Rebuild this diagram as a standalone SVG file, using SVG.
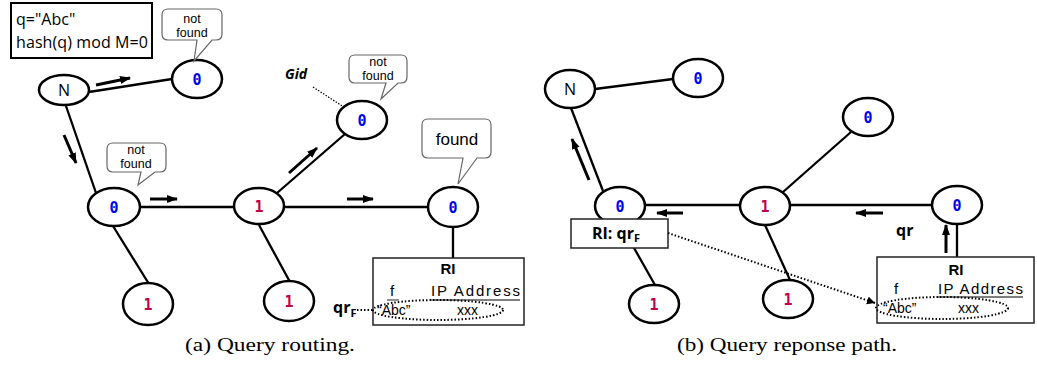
<svg xmlns="http://www.w3.org/2000/svg" width="1037" height="370" viewBox="0 0 1037 370">
<style>
.edge{stroke:#000;stroke-width:2.3;fill:none}
.arr{stroke:#000;stroke-width:3;fill:none;marker-end:url(#ah)}
.node{fill:#fff;stroke:#000;stroke-width:2.5}
.n0{font-family:"DejaVu Sans Mono",monospace;font-weight:bold;font-size:15px;fill:#0000ee;text-anchor:middle}
.n1{font-family:"DejaVu Sans Mono",monospace;font-weight:bold;font-size:15px;fill:#c0004e;text-anchor:middle}
.nN{font-family:"Open Sans",sans-serif;font-size:16px;fill:#000;text-anchor:middle}
.bub{fill:#fff;stroke:#666;stroke-width:1.2}
.bt{font-family:"Liberation Sans",Arial,sans-serif;font-size:12.5px;fill:#000;text-anchor:middle}
.t{font-family:"Open Sans",sans-serif;fill:#000}
.b{font-family:"Open Sans",sans-serif;font-weight:bold;fill:#000}
.ri{font-family:"Liberation Sans",Arial,sans-serif;font-weight:bold;font-size:15px;fill:#000;text-anchor:middle}
.rt{font-family:"Liberation Sans",Arial,sans-serif;font-size:15px;fill:#000}
.box{fill:#fff;stroke:#222;stroke-width:1.5}
.dot{fill:none;stroke:#000;stroke-width:2;stroke-dasharray:1.5 2}
.cap{font-family:"Liberation Serif",serif;font-size:18px;fill:#000}
</style>
<defs>
<marker id="ah" markerUnits="userSpaceOnUse" markerWidth="12" markerHeight="10" refX="10" refY="4" orient="auto"><path d="M0,0 L11,4 L0,8 z" fill="#000"/></marker>
<marker id="oh" markerUnits="userSpaceOnUse" markerWidth="10" markerHeight="10" refX="8" refY="4" orient="auto"><path d="M0,0 L8,4 L0,8" fill="none" stroke="#000" stroke-width="1"/></marker>
<marker id="sh" markerUnits="userSpaceOnUse" markerWidth="10" markerHeight="10" refX="8" refY="4" orient="auto"><path d="M0,0 L8,4 L0,8 z" fill="#000"/></marker>
</defs>

<g id="connectors">
<line class="edge" x1="89" y1="92" x2="172" y2="79"/>
<line class="edge" x1="66" y1="106" x2="96" y2="193"/>
<line class="edge" x1="140" y1="207" x2="234" y2="207"/>
<line class="edge" x1="113" y1="226" x2="149" y2="284"/>
<line class="edge" x1="259" y1="225" x2="290" y2="282"/>
<line class="edge" x1="277" y1="193" x2="345" y2="134"/>
<line class="edge" x1="284" y1="207" x2="428" y2="207"/>
<line class="edge" x1="453" y1="227" x2="453" y2="258"/>
<line class="arr" x1="96" y1="85" x2="130" y2="78"/>
<line class="arr" x1="64" y1="135" x2="76" y2="163"/>
<line class="arr" x1="150" y1="199" x2="177" y2="199"/>
<line class="arr" x1="289" y1="173" x2="317" y2="148"/>
<line class="arr" x1="347" y1="199" x2="373" y2="199"/>
<line x1="313" y1="87" x2="356" y2="115" stroke="#000" stroke-width="1.2" stroke-dasharray="1.5 1.5" marker-end="url(#oh)"/>
<line class="dot" x1="357" y1="310" x2="373" y2="310"/>

<line class="edge" x1="595" y1="89" x2="673" y2="79"/>
<line class="edge" x1="571" y1="108" x2="603" y2="191"/>
<line class="edge" x1="645" y1="205" x2="740" y2="205"/>
<line class="edge" x1="621" y1="225" x2="655" y2="285"/>
<line class="edge" x1="765" y1="225" x2="790" y2="280"/>
<line class="edge" x1="783" y1="192" x2="851" y2="132"/>
<line class="edge" x1="790" y1="205" x2="932" y2="205"/>
<line class="edge" x1="957" y1="224" x2="957" y2="257"/>
<line class="arr" x1="589" y1="180" x2="572" y2="139"/>
<line class="arr" x1="683" y1="213" x2="657" y2="213"/>
<line class="arr" x1="883" y1="213" x2="856" y2="213"/>
<line class="arr" x1="946" y1="253" x2="946" y2="225"/>
</g>

<g id="query-box">
<rect x="11" y="3" width="141" height="55" fill="#fff" stroke="#000" stroke-width="2"/>
<text class="t" x="16" y="25" font-size="16">q="Abc"</text>
<text class="t" x="16" y="48" font-size="16" textLength="132">hash(q) mod M=0</text>
</g>

<g id="a-N"><ellipse class="node" cx="64" cy="90" rx="25" ry="15"/><text class="nN" x="64" y="96">N</text></g>
<g id="a-top0"><ellipse class="node" cx="197" cy="79" rx="25" ry="19"/><text class="n0" x="197" y="85">0</text></g>
<g id="a-mid0"><ellipse class="node" cx="114" cy="207" rx="26" ry="19"/><text class="n0" x="114" y="213">0</text></g>
<g id="a-mid1"><ellipse class="node" cx="259" cy="206" rx="25" ry="18"/><text class="n1" x="259" y="212">1</text></g>
<g id="a-low1a"><ellipse class="node" cx="148" cy="304" rx="25" ry="21"/><text class="n1" x="148" y="310">1</text></g>
<g id="a-low1b"><ellipse class="node" cx="289" cy="301" rx="25" ry="20"/><text class="n1" x="289" y="307">1</text></g>
<g id="a-gid0"><ellipse class="node" cx="362" cy="120" rx="25" ry="19"/><text class="n0" x="362" y="126">0</text></g>
<g id="a-found0"><ellipse class="node" cx="453" cy="207" rx="25" ry="20"/><text class="n0" x="453" y="213">0</text></g>

<g id="bubble1"><path class="bub" d="M168,9 H216 Q222,9 222,15 V34 Q222,40 216,40 H212 L194,61 L197,40 H168 Q162,40 162,34 V15 Q162,9 168,9 Z"/><text class="bt" x="192" y="23">not</text><text class="bt" x="192" y="37">found</text></g>
<g id="bubble2"><path class="bub" d="M113,143 H160 Q166,143 166,149 V166 Q166,172 160,172 H155 L138,185 L141,172 H113 Q107,172 107,166 V149 Q107,143 113,143 Z"/><text class="bt" x="136" y="154">not</text><text class="bt" x="136" y="168">found</text></g>
<g id="bubble3"><path class="bub" d="M355,55 H401 Q407,55 407,61 V77 Q407,83 401,83 H398 L381,99 L386,83 H355 Q349,83 349,77 V61 Q349,55 355,55 Z"/><text class="bt" x="378" y="66">not</text><text class="bt" x="378" y="80">found</text></g>
<g id="bubble4"><path class="bub" d="M428,119 H485 Q491,119 491,125 V152 Q491,158 485,158 H477 L458,184 L463,158 H428 Q422,158 422,152 V125 Q422,119 428,119 Z"/><text class="bt" x="457" y="145" style="font-size:17px">found</text></g>

<g id="gid-label"><text class="b" x="285" y="79" font-size="14" font-style="italic">Gid</text></g>

<g id="a-RI">
<rect class="box" x="373" y="258" width="151" height="67"/>
<text class="ri" x="448" y="274">RI</text>
<text class="rt" x="390" y="296">f</text>
<text class="rt" x="431" y="296" textLength="89">IP Address</text>
<line x1="387" y1="300" x2="399" y2="300" stroke="#555" stroke-width="1.3"/>
<line x1="431" y1="300" x2="520" y2="300" stroke="#555" stroke-width="1.3"/>
<ellipse class="dot" cx="438" cy="310" rx="65" ry="10"/>
<text class="rt" x="377" y="315" style="font-size:14px">“Abc”</text>
<text class="rt" x="457" y="315" style="font-size:14px">xxx</text>
</g>
<g id="a-qrF"><text class="b" x="333" y="313" font-size="16">qr<tspan font-size="11" dy="4">F</tspan></text></g>

<g id="b-N"><ellipse class="node" cx="570" cy="89" rx="25" ry="19"/><text class="nN" x="570" y="95">N</text></g>
<g id="b-top0"><ellipse class="node" cx="698" cy="78" rx="25" ry="19"/><text class="n0" x="698" y="84">0</text></g>
<g id="b-mid0"><ellipse class="node" cx="620" cy="206" rx="25" ry="19"/><text class="n0" x="620" y="212">0</text></g>
<g id="b-mid1"><ellipse class="node" cx="765" cy="206" rx="25" ry="19"/><text class="n1" x="765" y="212">1</text></g>
<g id="b-low1a"><ellipse class="node" cx="654" cy="304" rx="25" ry="19"/><text class="n1" x="654" y="310">1</text></g>
<g id="b-low1b"><ellipse class="node" cx="788" cy="299" rx="25" ry="19"/><text class="n1" x="788" y="305">1</text></g>
<g id="b-top0r"><ellipse class="node" cx="868" cy="117" rx="25" ry="19"/><text class="n0" x="868" y="123">0</text></g>
<g id="b-right0"><ellipse class="node" cx="957" cy="205" rx="25" ry="19"/><text class="n0" x="957" y="211">0</text></g>

<g id="b-RIqr">
<rect class="box" x="571" y="219" width="97" height="29"/>
<text class="b" x="592" y="239" font-size="16">RI: qr<tspan font-size="11" dy="3">F</tspan></text>
</g>
<g id="b-link"><line x1="668" y1="233" x2="875" y2="303" stroke="#000" stroke-width="2" stroke-dasharray="1.5 2" marker-end="url(#sh)"/></g>
<g id="b-qr"><text class="b" x="896" y="236" font-size="16">qr</text></g>

<g id="b-RI">
<rect class="box" x="877" y="257" width="157" height="66"/>
<text class="ri" x="956" y="275">RI</text>
<text class="rt" x="894" y="294">f</text>
<text class="rt" x="938" y="294" textLength="85">IP Address</text>
<line x1="938" y1="297" x2="1023" y2="297" stroke="#555" stroke-width="1.3"/>
<ellipse class="dot" cx="942" cy="308" rx="66" ry="11"/>
<text class="rt" x="883" y="313" style="font-size:14px">“Abc”</text>
<text class="rt" x="958" y="313" style="font-size:14px">xxx</text>
</g>

<g id="captions">
<text class="cap" x="185" y="351" textLength="170" lengthAdjust="spacingAndGlyphs">(a) Query routing.</text>
<text class="cap" x="677" y="351" textLength="220" lengthAdjust="spacingAndGlyphs">(b) Query reponse path.</text>
</g>
</svg>
